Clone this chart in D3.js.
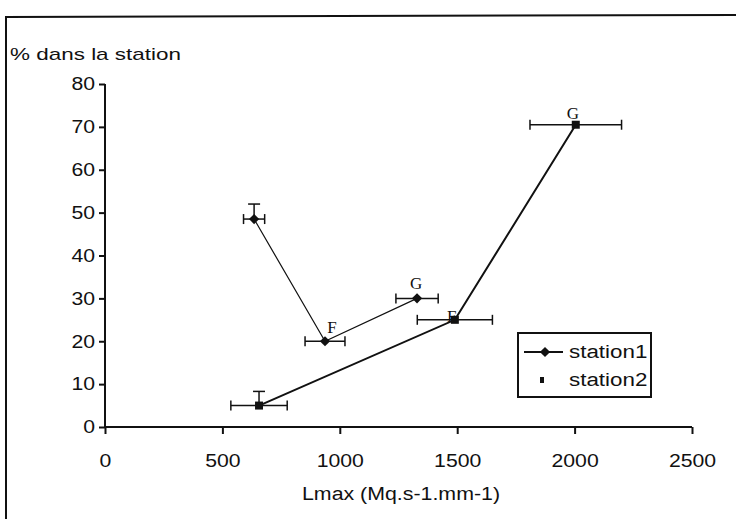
<!DOCTYPE html>
<html lang="fr">
<head>
	<meta charset="UTF-8">
	<title>Lmax station</title>
	<script src="https://cdn.jsdelivr.net/npm/d3@7"></script>
	<style>
		body { margin: 0; background: #fff; }
		text { font-family: "Liberation Sans", Arial, sans-serif; fill: #111; }
		.lab { font-family: "Liberation Serif", "DejaVu Serif", serif; }
	</style>
</head>
<body>
	<svg id="cont" width="736" height="519"></svg>
<script>
	// station1
	let s1X = [635, 937, 1329];
	let s1Y = [48.5, 20, 30];
	let s1Xerr = [45, 85, 90];
	let s1Yup = [3.5, 0, 0];
	let s1Lab = ["", "F", "G"];

	// station2
	let s2X = [656, 1490, 2005];
	let s2Y = [5, 25, 70.5];
	let s2Xerr = [120, 160, 195];
	let s2Yup = [3.3, 0, 0];
	let s2Lab = ["", "F", "G"];

	let xTicks = [0, 500, 1000, 1500, 2000, 2500];
	let yTicks = [0, 10, 20, 30, 40, 50, 60, 70, 80];

	let svg = d3.select("#cont");

	let x = d3.scaleLinear().domain([0, 2500]).range([105, 692]);
	let y = d3.scaleLinear().domain([0, 80]).range([427, 84]);

	// text is wider in the scan than in Liberation Sans, so stretch it
	function wide(sel, px)
	{
		sel.attr("textLength", function() { return this.textContent.length * px; })
			.attr("lengthAdjust", "spacingAndGlyphs");
	}

	// outer frame (left + top only)
	svg.append("path")
		.attr("d", "M6,519 L6,17 L736,15")
		.attr("fill", "none")
		.attr("stroke", "#111")
		.attr("stroke-width", 2);

	svg.append("text")
		.attr("x", 10).attr("y", 60)
		.attr("font-size", 17)
		.attr("textLength", 171).attr("lengthAdjust", "spacingAndGlyphs")
		.text("% dans la station");

	// axes
	let xaxis = d3.axisBottom(x).tickValues(xTicks).tickFormat(d3.format("d")).tickSize(7).tickPadding(20);
	let gx = svg.append("g").attr("transform", "translate(0," + y(0) + ")").call(xaxis);
	let yaxis = d3.axisLeft(y).tickValues(yTicks).tickSize(6).tickPadding(4);
	let gy = svg.append("g").attr("transform", "translate(" + x(0) + ",0)").call(yaxis);
	[gx, gy].forEach(g => {
		g.select(".domain").attr("stroke", "#111").attr("stroke-width", 2);
		g.selectAll(".tick line").attr("stroke", "#111").attr("stroke-width", 2);
		g.selectAll(".tick text").attr("font-size", 18).attr("font-family", "Liberation Sans, Arial, sans-serif").attr("fill", "#111");
		wide(g.selectAll(".tick text"), 11.8);
	});
	gx.select(".domain").attr("d", "M" + x(0) + ",0H" + x(2500));
	gy.select(".domain").attr("d", "M0," + y(80) + "V" + y(0));

	svg.append("text")
		.attr("x", 401).attr("y", 500)
		.attr("text-anchor", "middle")
		.attr("font-size", 18)
		.attr("textLength", 198).attr("lengthAdjust", "spacingAndGlyphs")
		.text("Lmax (Mq.s-1.mm-1)");

	function drawSeries(xs, ys, xerr, yup, labs, lw, sym, size, rot, labDx, labDy)
	{
		let pts = xs.map((v, i) => ({ x: v, y: ys[i], e: xerr[i], u: yup[i], l: labs[i], dx: labDx[i], dy: labDy[i] }));
		let line = d3.line().x(d => x(d.x)).y(d => y(d.y));
		svg.append("path")
			.datum(pts)
			.attr("d", line)
			.attr("fill", "none")
			.attr("stroke", "#111")
			.attr("stroke-width", lw);

		let g = svg.append("g").selectAll("g").data(pts).enter().append("g");
		// horizontal error bars
		g.append("line")
			.attr("x1", d => x(d.x - d.e)).attr("x2", d => x(d.x + d.e))
			.attr("y1", d => y(d.y)).attr("y2", d => y(d.y))
			.attr("stroke", "#111").attr("stroke-width", 1.5);
		g.append("line")
			.attr("x1", d => x(d.x - d.e)).attr("x2", d => x(d.x - d.e))
			.attr("y1", d => y(d.y) - 5).attr("y2", d => y(d.y) + 5)
			.attr("stroke", "#111").attr("stroke-width", 1.5);
		g.append("line")
			.attr("x1", d => x(d.x + d.e)).attr("x2", d => x(d.x + d.e))
			.attr("y1", d => y(d.y) - 5).attr("y2", d => y(d.y) + 5)
			.attr("stroke", "#111").attr("stroke-width", 1.5);
		// upper error bar
		let gu = g.filter(d => d.u > 0);
		gu.append("line")
			.attr("x1", d => x(d.x)).attr("x2", d => x(d.x))
			.attr("y1", d => y(d.y)).attr("y2", d => y(d.y + d.u))
			.attr("stroke", "#111").attr("stroke-width", 1.5);
		gu.append("line")
			.attr("x1", d => x(d.x) - 6).attr("x2", d => x(d.x) + 6)
			.attr("y1", d => y(d.y + d.u)).attr("y2", d => y(d.y + d.u))
			.attr("stroke", "#111").attr("stroke-width", 1.5);

		g.append("path")
			.attr("d", d3.symbol().type(sym).size(size))
			.attr("transform", d => "translate(" + x(d.x) + "," + y(d.y) + ") rotate(" + rot + ")")
			.attr("fill", "#111");

		g.append("text")
			.attr("class", "lab")
			.attr("text-anchor", "middle")
			.attr("x", d => x(d.x) + d.dx)
			.attr("y", d => y(d.y) + d.dy)
			.attr("font-size", 17)
			.text(d => d.l);
	}

	drawSeries(s1X, s1Y, s1Xerr, s1Yup, s1Lab, 1.2, d3.symbolSquare, 52, 45, [0, 7, -1], [0, -8, -9]);
	drawSeries(s2X, s2Y, s2Xerr, s2Yup, s2Lab, 2, d3.symbolSquare, 64, 0, [0, -3, -3], [0, 2, -6]);

	// legend
	let leg = svg.append("g");
	leg.append("rect")
		.attr("x", 518).attr("y", 333).attr("width", 133).attr("height", 64)
		.attr("fill", "#fff").attr("stroke", "#111").attr("stroke-width", 2);
	leg.append("line")
		.attr("x1", 524).attr("x2", 563).attr("y1", 352).attr("y2", 352)
		.attr("stroke", "#111").attr("stroke-width", 2);
	leg.append("path")
		.attr("d", d3.symbol().type(d3.symbolSquare).size(52))
		.attr("transform", "translate(545,352) rotate(45)")
		.attr("fill", "#111");
	leg.append("rect")
		.attr("x", 540).attr("y", 377).attr("width", 4).attr("height", 6)
		.attr("fill", "#111");
	let lt = leg.selectAll("text.lt").data(["station1", "station2"]).enter().append("text")
		.attr("class", "lt")
		.attr("x", 569).attr("y", (d, i) => 358 + i * 28)
		.attr("font-size", 18)
		.text(d => d);
	wide(lt, 9.8);
</script>
</body>
</html>
